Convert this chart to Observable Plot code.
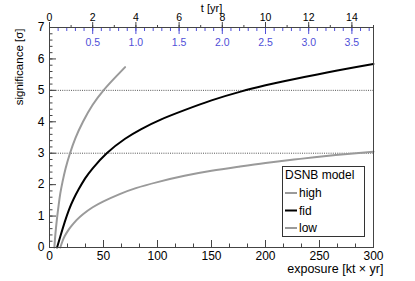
<!DOCTYPE html>
<html><head><meta charset="utf-8">
<script src="https://cdn.jsdelivr.net/npm/d3@7"></script>
<script src="https://cdn.jsdelivr.net/npm/@observablehq/plot@0.6"></script>
<style>body{margin:0;background:#fff}</style>
</head><body><div id="chart"></div>
<script>
// exposure [kt x yr] vs significance [sigma]
const highExposure = [4.5, 5.5, 7, 8.5, 10, 12, 15, 19, 24, 31, 40, 50, 60, 70];
const highSignificance = [0, 0.44, 0.94, 1.36, 1.72, 2.08, 2.53, 3.0, 3.48, 4.0, 4.54, 5.0, 5.38, 5.74];
const fidExposure = [7, 10, 14, 18, 22, 27, 33, 40, 53, 70, 85, 103, 125, 150, 177, 200, 217, 257, 300];
const fidSignificance = [0, 0.35, 0.8, 1.2, 1.52, 1.85, 2.2, 2.52, 3.0, 3.46, 3.77, 4.07, 4.37, 4.68, 4.96, 5.16, 5.29, 5.57, 5.84];
const lowExposure = [10, 12, 14, 17, 20, 25, 31, 40, 50, 65, 80, 100, 125, 150, 175, 200, 232, 265, 300];
const lowSignificance = [0, 0.2, 0.36, 0.53, 0.67, 0.87, 1.06, 1.28, 1.47, 1.7, 1.89, 2.08, 2.28, 2.44, 2.57, 2.69, 2.82, 2.94, 3.05];
const thresholds = [3, 5];
const modelNames = ["high", "fid", "low"];
const modelColors = ["#9a9a9a", "#000000", "#9a9a9a"];

// tick labels
const xTickLabels = [0, 50, 100, 150, 200, 250, 300];
const yTickLabels = [0, 1, 2, 3, 4, 5, 6, 7];
const tTickLabels = [0, 2, 4, 6, 8, 10, 12, 14];       // t [yr]
const blueTickLabels = [0.5, 1.0, 1.5, 2.0, 2.5, 3.0, 3.5];
const ktPerYear = 20;      // exposure per year of t axis
const ktPerBlueUnit = 80;  // exposure per unit of blue axis

const series = [
  {name: "high", xs: highExposure, ys: highSignificance},
  {name: "fid", xs: fidExposure, ys: fidSignificance},
  {name: "low", xs: lowExposure, ys: lowSignificance}
];
const rows = series.flatMap(s => s.xs.map((x, i) => ({model: s.name, exposure: x, significance: s.ys[i]})));

const xMinor = d3.range(0, 300.01, 50 / 3);
const yMinor = d3.range(0, 7.001, 0.2);
const tMinor = d3.range(0, 15.01, 1).map(t => t * ktPerYear);
const blueMinor = d3.range(0.1, 3.751, 0.1).map(b => b * ktPerBlueUnit);
const blue = "#5050d8";
const font = "'Liberation Sans', Arial, Helvetica, sans-serif";

const chart = Plot.plot({
  width: 415, height: 281,
  marginLeft: 49, marginRight: 42, marginTop: 27, marginBottom: 34,
  style: {fontFamily: font, fontSize: "12px", background: "#fff", overflow: "visible"},
  x: {domain: [0, 300], axis: null},
  y: {domain: [0, 7], axis: null},
  color: {domain: modelNames, range: modelColors},
  marks: [
    Plot.ruleY(thresholds, {y: d => d, stroke: "#555", strokeDasharray: "1,1.2", strokeWidth: 1}),
    Plot.line(rows, {x: "exposure", y: "significance", z: "model", stroke: "model", strokeWidth: 2, curve: "natural"}),
    Plot.frame({stroke: "#444"}),
    // left axis
    Plot.axisY(yTickLabels, {anchor: "left", tickSize: 0, tickPadding: 5, fontSize: 12, label: null}),
    Plot.axisY(yTickLabels, {anchor: "left", tickSize: -7, tickFormat: () => "", label: null, stroke: "#444"}),
    Plot.axisY(yMinor, {anchor: "left", tickSize: -3.5, tickFormat: () => "", label: null, stroke: "#444"}),
    // bottom axis
    Plot.axisX(xTickLabels, {anchor: "bottom", tickSize: 0, tickPadding: 4, fontSize: 12, label: null}),
    Plot.axisX(xTickLabels, {anchor: "bottom", tickSize: -7, tickFormat: () => "", label: null, stroke: "#444"}),
    Plot.axisX(xMinor, {anchor: "bottom", tickSize: -3.5, tickFormat: () => "", label: null, stroke: "#444"}),
    // top black axis t [yr]
    Plot.axisX(tTickLabels.map(t => t * ktPerYear), {anchor: "top", tickSize: 6, tickPadding: 1, fontSize: 10.5, tickFormat: d => d / ktPerYear, label: null, stroke: "#444"}),
    Plot.axisX(tMinor, {anchor: "top", tickSize: 3, tickFormat: () => "", label: null, stroke: "#444"}),
    // top blue axis
    Plot.axisX(blueTickLabels.map(b => b * ktPerBlueUnit), {anchor: "top", tickSize: -6, tickFormat: () => "", label: null, stroke: blue}),
    Plot.axisX(blueMinor, {anchor: "top", tickSize: -3, tickFormat: () => "", label: null, stroke: blue}),
    Plot.text(blueTickLabels, {x: b => b * ktPerBlueUnit, text: b => b.toFixed(1), frameAnchor: "top", dy: 11, fill: blue, fontSize: 10.5}),
    // titles
    Plot.text(["t [yr]"], {frameAnchor: "top", dy: -23, fontSize: 11}),
    Plot.text(["exposure [kt \u00d7 yr]"], {frameAnchor: "bottom-right", textAnchor: "end", dx: 10, dy: 25, fontSize: 12.5}),
    Plot.text(["significance [\u03c3]"], {frameAnchor: "top-left", rotate: -90, textAnchor: "end", dx: -35, dy: 1, fontSize: 11.5})
  ]
});

// legend box
const svg = d3.select(chart);
const lg = svg.append("g").attr("font-family", font).attr("font-size", 12).attr("text-anchor", "start");
lg.append("rect").attr("x", 282.5).attr("y", 166.5).attr("width", 82).attr("height", 70)
  .attr("fill", "#fff").attr("stroke", "#333");
lg.append("text").attr("x", 285).attr("y", 179).attr("text-anchor", "start").text("DSNB model");
modelNames.forEach((m, i) => {
  const y = 193 + i * 17.5;
  lg.append("line").attr("x1", 285).attr("x2", 297).attr("y1", y).attr("y2", y)
    .attr("stroke", modelColors[i]).attr("stroke-width", 2);
  lg.append("text").attr("x", 299).attr("y", y).attr("dy", "0.35em").attr("text-anchor", "start").text(m);
});
document.getElementById("chart").appendChild(chart);
</script>
</body></html>
